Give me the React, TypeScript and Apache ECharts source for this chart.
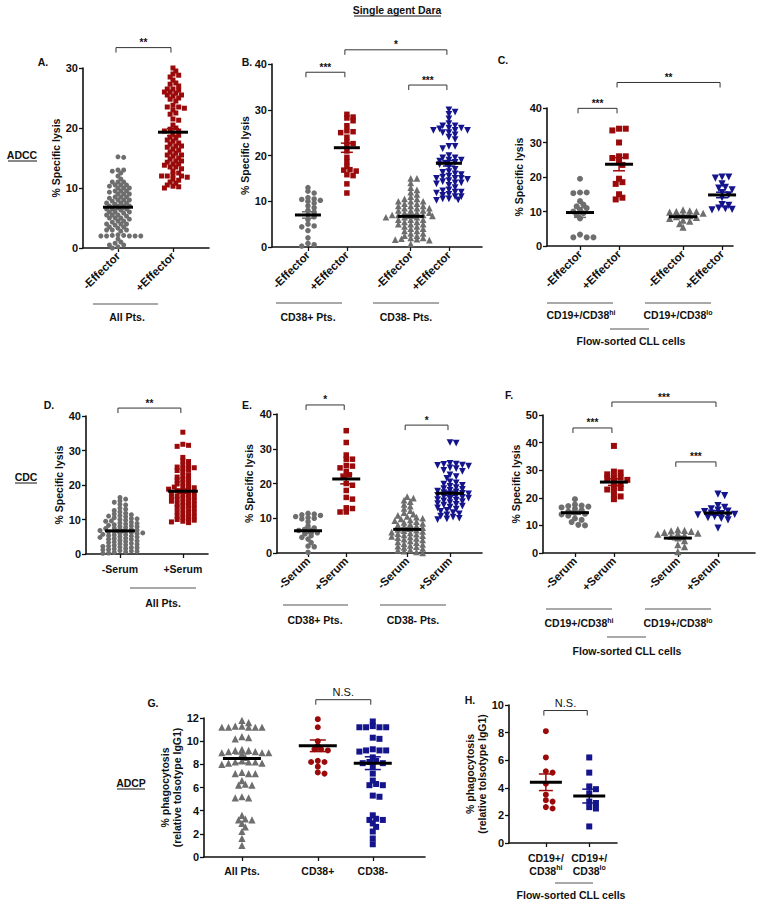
import React, { useEffect, useRef } from "react";
import * as echarts from "echarts";

const FONT = "'Liberation Sans', Arial, sans-serif";
const GRAY = "#6e6e6e";
const RED = "#9b0a0a";
const NAVY = "#14148c";
const INK = "#111111";

// ---------------- DATA ----------------
// A. ADCC, all patients
const aEffectorMinus = [15.2, 15.1, 13, 13, 12.5, 12.8, 12, 11.5, 11, 11, 11, 10.5, 10.5, 10.5, 10.3, 10, 10, 10, 9.5, 9.5, 9.5, 9.3, 9, 9, 9, 8.5, 8.5, 8.5, 8.3, 8, 8, 8, 7.8, 7.5, 7.5, 7.5, 7.3, 7, 7, 7, 6.8, 6.5, 6.5, 6.5, 6.3, 6, 6, 6, 5.8, 5.5, 5.5, 5.5, 5.3, 5, 5, 5, 4.8, 4.5, 4.5, 4.3, 4, 4, 4, 3.8, 3.5, 3.5, 3.3, 3, 3, 3, 2.8, 2.2, 2.1, 2, 2, 2, 2, 2, 2.1, 1.5, 1, 0.8, 0.5, 0.5, 0.2, 0];
const aEffectorPlus = [30, 29.5, 29, 28.5, 28.8, 28, 27.5, 27.3, 27, 26.5, 26.5, 26.3, 26, 26, 25.8, 25.5, 25.5, 25.3, 25, 24.8, 24.5, 23.8, 23.5, 23.5, 23.3, 23, 22.5, 22.3, 21.5, 21.3, 20.5, 20, 19.8, 19.5, 19.5, 19, 18.8, 18.5, 18.3, 18, 17.8, 17.5, 17.3, 17, 17, 16.8, 16.5, 16.3, 16, 15.8, 15.5, 15.5, 15.3, 15, 14.8, 14.5, 14.5, 14.3, 14, 14, 13.8, 13.5, 13.5, 13.2, 12.8, 12.5, 12.2, 12, 12, 12, 11.8, 11.5, 11.3, 11, 10.8, 10.5, 10.3, 10.2, 10];
const aMeans = [6.8, 19.3];
const aSems = [0.4, 0.6];

// B. ADCC, CD38+ / CD38- patients
const bPosEffectorMinus = [13, 12.2, 11.8, 10.8, 10.5, 10.4, 10.2, 10, 9.6, 9, 8.6, 8, 7.6, 7, 6.6, 6, 5, 4.6, 4.4, 3.6, 2, 0.8, 0.5, 0.2];
const bPosEffectorPlus = [29, 28.4, 28.2, 27.6, 26.5, 25.4, 25.2, 25, 24, 23, 22.6, 22, 21, 19.6, 18.6, 17.6, 16.9, 16.8, 16.6, 15.8, 15.6, 13.8, 11.8];
const bNegEffectorMinus = [15, 15, 14, 13, 12.5, 12, 11.5, 11, 10.5, 10.5, 10, 10, 10, 9.5, 9.5, 9, 9, 9, 8.5, 8.5, 8.5, 8, 8, 8, 7.5, 7.5, 7.5, 7, 7, 7, 7, 6.8, 6.5, 6.5, 6.5, 6, 6, 6, 5.5, 5.5, 5, 5, 5, 4.5, 4.5, 4, 4, 3.5, 3.5, 3, 3, 2.5, 2.5, 2, 2, 1.8, 1.7, 1.6, 1.5, 0.7];
const bNegEffectorPlus = [30, 29.5, 29, 28, 27, 26.5, 26.5, 26, 26, 25.8, 25.5, 25.5, 25.5, 25, 25, 24.5, 24, 23.5, 22, 22, 21.5, 20, 19.5, 19.5, 19, 19, 18.8, 18.5, 18.3, 18, 17.5, 17, 16.5, 16.3, 16, 15.8, 15.5, 15.3, 15, 15, 15, 14.8, 14.5, 14.3, 14, 14, 13.8, 13.5, 13, 12.5, 12.3, 12, 12, 11.8, 11.5, 11.3, 11, 11, 10.5, 10.5, 10.3, 10.2];
const bMeans = [7.0, 21.7, 6.7, 18.3];
const bSems = [0.7, 1.0, 0.4, 0.6];

// C. ADCC, flow-sorted CLL cells
const cHiEffectorMinus = [19.5, 15.5, 15.5, 15.3, 13, 12, 11.5, 11, 10.5, 10, 9.5, 9, 8, 3.3, 2.5, 2.5, 2.5];
const cHiEffectorPlus = [34, 34, 33.5, 30, 26, 26, 25.5, 24.5, 23.5, 19.5, 18.5, 18, 15, 14, 13.5];
const cLoEffectorMinus = [10.5, 10.2, 10, 10, 9.8, 9.5, 9, 8.8, 8.5, 8.3, 8, 7.5, 7.2, 6.5, 5.5];
const cLoEffectorPlus = [20, 20, 19.7, 18, 17, 16.8, 16.3, 15.5, 14.8, 14, 12, 11.8, 11, 10.8, 10.6, 10.5];
const cMeans = [9.7, 23.7, 8.5, 14.8];
const cSems = [1.4, 1.9, 0.4, 0.8];

// D. CDC, all patients
const dSerumMinus = [16.4, 15.9, 15.4, 15.0, 14.4, 14.2, 13.3, 13.0, 12.6, 12.2, 11.8, 11.6, 11.4, 11.1, 11.0, 10.8, 10.5, 10.3, 10.2, 10.0, 9.8, 9.6, 9.5, 9.2, 9.0, 8.9, 8.7, 8.5, 8.3, 8.2, 8.0, 7.9, 7.7, 7.5, 7.4, 7.2, 7.0, 6.9, 6.8, 6.6, 6.5, 6.4, 6.2, 6.1, 6.0, 5.9, 5.7, 5.6, 5.5, 5.3, 5.2, 5.0, 4.9, 4.8, 4.6, 4.5, 4.3, 4.2, 4.0, 3.8, 3.6, 3.5, 3.3, 3.1, 3.0, 2.8, 2.6, 2.5, 2.3, 2.2, 2.0, 1.9, 1.8, 1.6, 1.5, 1.3, 1.2, 1.0, 0.9, 0.8, 0.6, 0.5, 0.3, 0.2];
const dSerumPlus = [35.3, 31.8, 31.5, 31.2, 28.0, 27.0, 26.8, 25.8, 25.5, 25.2, 25.0, 24.8, 24.5, 24.2, 23.8, 23.0, 22.6, 22.3, 22.0, 21.6, 21.3, 21.0, 20.6, 20.3, 20.0, 19.6, 19.4, 19.2, 19.0, 18.8, 18.5, 18.3, 18.0, 17.8, 17.6, 17.3, 17.0, 16.8, 16.6, 16.4, 16.2, 16.0, 15.8, 15.5, 15.3, 15.0, 14.8, 14.5, 14.3, 14.0, 13.8, 13.5, 13.2, 12.8, 12.5, 12.2, 12.0, 11.6, 11.2, 11.0, 10.8, 10.5, 10.2, 10.0, 9.8, 9.5, 9.3, 9.1];
const dMeans = [6.7, 18.2];
const dSems = [0.4, 0.6];

// E. CDC, CD38+ / CD38- patients
const ePosSerumMinus = [11.4, 11.2, 11, 10.8, 10.5, 10.2, 10, 9.8, 9, 7.8, 7.2, 6.8, 6.5, 6.2, 5.8, 5.5, 5, 4.5, 4, 3, 2, 1.8, 0.2];
const ePosSerumPlus = [35.2, 31.8, 28.2, 27, 27, 25.2, 25, 24.5, 23.5, 22.5, 21.8, 20, 19.5, 18, 16, 15.5, 13, 12.8, 11.8, 11.8];
const eNegSerumMinus = [16.2, 15.8, 15.2, 14.8, 14.0, 13.5, 12.8, 12.2, 11.6, 11.2, 10.8, 10.5, 10.3, 10.0, 9.8, 9.5, 9.3, 9.0, 8.8, 8.5, 8.3, 8.0, 7.8, 7.6, 7.3, 7.0, 6.8, 6.6, 6.4, 6.2, 6.0, 5.8, 5.6, 5.4, 5.2, 5.0, 4.8, 4.6, 4.4, 4.2, 4.0, 3.8, 3.5, 3.2, 3.0, 2.7, 2.5, 2.2, 2.0, 1.8, 1.6, 1.3, 1.0, 0.8, 0.5, 0.3, 0.0];
const eNegSerumPlus = [31.8, 31.6, 25.8, 25.6, 25.5, 25.3, 25.2, 25.0, 24.5, 24.3, 23.8, 23.5, 22.5, 22.0, 21.5, 20.5, 20.2, 19.8, 19.5, 19.2, 18.8, 18.5, 18.3, 18.0, 17.8, 17.6, 17.4, 17.2, 17.0, 16.8, 16.6, 16.4, 16.2, 16.0, 15.8, 15.6, 15.4, 15.2, 15.0, 14.8, 14.5, 14.2, 14.0, 13.8, 13.5, 13.2, 13.0, 12.6, 12.3, 12.0, 11.6, 11.3, 11.0, 10.6, 10.3, 10.0, 9.8, 9.6];
const eMeans = [6.4, 21.3, 6.8, 17.2];
const eSems = [0.7, 1.4, 0.5, 0.6];

// F. CDC, flow-sorted CLL cells
const fHiSerumMinus = [19.5, 17.5, 17.2, 17, 16.8, 16.5, 16, 15.5, 15, 14.5, 14.2, 14, 13.5, 12.5, 12, 11.2, 10.2, 10];
const fHiSerumPlus = [38.8, 29.5, 29.2, 28.5, 27.5, 27.3, 27, 26.5, 26, 25, 24, 23.5, 23, 22.5, 21, 20.5, 19.5];
const fLoSerumMinus = [8.5, 8.2, 8, 7.8, 7.5, 7.2, 7, 6.8, 6.5, 6, 5.5, 4.5, 3, 2.3, 0.5];
const fLoSerumPlus = [21.3, 20.8, 17.2, 16.5, 16, 15.5, 15.2, 15, 14.5, 14.2, 14, 13.8, 13.5, 13.2, 12.8, 12.5, 12, 9];
const fMeans = [14.6, 25.7, 5.4, 14.5];
const fSems = [0.6, 1.2, 0.6, 0.8];

// G. ADCP, patients
const gAllPts = [11.8, 11.6, 11.3, 11.3, 11.2, 11.2, 11.2, 11.2, 11.2, 10.3, 10.2, 10.4, 9.3, 9.2, 9.2, 9.1, 9.1, 9.0, 9.0, 9.0, 8.9, 8.6, 8.3, 8.2, 8.2, 8.2, 8.1, 8.1, 8.0, 7.3, 7.2, 7.2, 7.2, 6.6, 6.3, 6.2, 6.2, 5.2, 5.1, 5.1, 3.6, 3.3, 3.2, 3.2, 2.9, 2.6, 2.2, 1.6, 1.0];
const gCD38Pos = [11.9, 11.2, 10, 9.6, 9.3, 9.3, 9.2, 8.3, 8.2, 8.2, 7.8, 7.3, 7.2];
const gCD38Neg = [11.7, 11.3, 11.2, 11.2, 11.2, 11.2, 10.3, 10.2, 9.3, 9.2, 9.2, 9.2, 9.1, 8.6, 8.3, 8.2, 8.1, 8.1, 7.8, 7.2, 6.6, 6.3, 6.2, 6.2, 5.3, 5.2, 3.6, 3.3, 3.2, 3.2, 2.9, 2.6, 2.2, 1.6, 1.1];
const gMeans = [8.5, 9.6, 8.1];
const gSems = [0.4, 0.5, 0.55];

// H. ADCP, flow-sorted CLL cells
const hCD38Hi = [8.1, 6.2, 5.2, 5.1, 4.3, 3.5, 3.1, 3.0, 2.6, 2.5];
const hCD38Lo = [6.2, 5.1, 4.1, 3.9, 3.6, 3.0, 2.9, 2.6, 2.5, 1.2];
const hMeans = [4.4, 3.4];
const hSems = [0.6, 0.5];

// tick / category labels
const effectorLabels = ["-Effector", "+Effector", "-Effector", "+Effector"];
const serumLabels = ["-Serum", "+Serum", "-Serum", "+Serum"];
const gLabels = ["All Pts.", "CD38+", "CD38-"];
const hLabels = ["CD19+/\nCD38{sup|hi}", "CD19+/\nCD38{sup|lo}"];

// ---------------- LAYOUT ----------------
type Group = { values: number[]; color: string; symbol: string; rotate?: number };
type Bracket = { x1: number; x2: number; y: number; label: string };
type Panel = {
  grid: [number, number, number, number];
  yMax: number; yInterval: number;
  xMin: number; xMax: number; xs: number[]; labels: string[]; rotate: number;
  groups: Group[]; means: number[]; sems: number[];
  size: number; meanHalf: number; capHalf: number;
  yName: string; nameGap: number; brackets: Bracket[]; labelMargin: number;
};

const circ = (values: number[], color: string): Group => ({ values, color, symbol: "circle" });
const sq = (values: number[], color: string): Group => ({ values, color, symbol: "rect" });
const tri = (values: number[], color: string): Group => ({ values, color, symbol: "triangle" });
const itri = (values: number[], color: string): Group => ({ values, color, symbol: "triangle", rotate: 180 });

const LYSIS = "% Specific lysis";
const PHAGO = "% phagocytosis\n(relative toIsotype IgG1)";

const panels: Panel[] = [
  { grid: [83, 68, 126, 180], yMax: 30, yInterval: 10, xMin: 0.364, xMax: 2.655, xs: [1, 2], labels: effectorLabels, rotate: 45,
    groups: [circ(aEffectorMinus, GRAY), sq(aEffectorPlus, RED)], means: aMeans, sems: aSems, size: 5, meanHalf: 15, capHalf: 6,
    yName: LYSIS, nameGap: 21, labelMargin: 6, brackets: [{ x1: 1, x2: 2, y: 33.4, label: "**" }] },
  { grid: [272, 64, 210, 183], yMax: 40, yInterval: 10, xMin: 0.077, xMax: 5.47, xs: [1, 2, 3.64, 4.62], labels: effectorLabels, rotate: 45,
    groups: [circ(bPosEffectorMinus, GRAY), sq(bPosEffectorPlus, RED), tri(bNegEffectorMinus, GRAY), itri(bNegEffectorPlus, NAVY)],
    means: bMeans, sems: bSems, size: 5.5, meanHalf: 13, capHalf: 6, yName: LYSIS, nameGap: 18, labelMargin: 6,
    brackets: [{ x1: 1, x2: 2, y: 38.2, label: "***" }, { x1: 2, x2: 4.62, y: 43.1, label: "*" }, { x1: 3.64, x2: 4.62, y: 35.4, label: "***" }] },
  { grid: [547, 108, 186, 138], yMax: 40, yInterval: 10, xMin: 0.154, xMax: 4.92, xs: [1, 2, 3.64, 4.64], labels: effectorLabels, rotate: 45,
    groups: [circ(cHiEffectorMinus, GRAY), sq(cHiEffectorPlus, RED), tri(cLoEffectorMinus, GRAY), itri(cLoEffectorPlus, NAVY)],
    means: cMeans, sems: cSems, size: 6, meanHalf: 14, capHalf: 6, yName: LYSIS, nameGap: 22, labelMargin: 6,
    brackets: [{ x1: 1, x2: 2, y: 39.9, label: "***" }, { x1: 2, x2: 4.64, y: 47.4, label: "**" }] },
  { grid: [86, 416, 122, 138], yMax: 40, yInterval: 10, xMin: 0.46, xMax: 2.4, xs: [1, 2], labels: serumLabels, rotate: 0,
    groups: [circ(dSerumMinus, GRAY), sq(dSerumPlus, RED)], means: dMeans, sems: dSems, size: 5, meanHalf: 15, capHalf: 6,
    yName: LYSIS, nameGap: 18, labelMargin: 8, brackets: [{ x1: 1, x2: 2, y: 42.3, label: "**" }] },
  { grid: [277, 414, 205, 139], yMax: 40, yInterval: 10, xMin: 0.195, xMax: 5.51, xs: [1, 1.99, 3.57, 4.68], labels: serumLabels, rotate: 45,
    groups: [circ(ePosSerumMinus, GRAY), sq(ePosSerumPlus, RED), tri(eNegSerumMinus, GRAY), itri(eNegSerumPlus, NAVY)],
    means: eMeans, sems: eSems, size: 5.5, meanHalf: 14, capHalf: 6, yName: LYSIS, nameGap: 22, labelMargin: 6,
    brackets: [{ x1: 1, x2: 1.99, y: 42.6, label: "*" }, { x1: 3.57, x2: 4.68, y: 36.8, label: "*" }] },
  { grid: [543, 415, 212, 138], yMax: 50, yInterval: 10, xMin: 0.18, xMax: 5.62, xs: [1, 2, 3.64, 4.67], labels: serumLabels, rotate: 45,
    groups: [circ(fHiSerumMinus, GRAY), sq(fHiSerumPlus, RED), tri(fLoSerumMinus, GRAY), itri(fLoSerumPlus, NAVY)],
    means: fMeans, sems: fSems, size: 6, meanHalf: 14, capHalf: 6, yName: LYSIS, nameGap: 21, labelMargin: 6,
    brackets: [{ x1: 1, x2: 2, y: 45.3, label: "***" }, { x1: 2, x2: 4.67, y: 54.7, label: "***" }, { x1: 3.64, x2: 4.67, y: 33, label: "***" }] },
  { grid: [204, 718, 221, 139], yMax: 12, yInterval: 2, xMin: 0.31, xMax: 4.33, xs: [1, 2.38, 3.38], labels: gLabels, rotate: 0,
    groups: [tri(gAllPts, GRAY), circ(gCD38Pos, RED), sq(gCD38Neg, NAVY)], means: gMeans, sems: gSems, size: 6, meanHalf: 19, capHalf: 8,
    yName: PHAGO, nameGap: 17, labelMargin: 7, brackets: [{ x1: 2.38, x2: 3.38, y: 13.58, label: "N.S." }] },
  { grid: [509, 705, 108, 138], yMax: 10, yInterval: 2, xMin: 0.15, xMax: 2.64, xs: [1, 2], labels: hLabels, rotate: 0,
    groups: [circ(hCD38Hi, RED), sq(hCD38Lo, NAVY)], means: hMeans, sems: hSems, size: 6, meanHalf: 16, capHalf: 7,
    yName: PHAGO, nameGap: 20, labelMargin: 8, brackets: [{ x1: 1, x2: 2, y: 9.6, label: "N.S." }] },
];

// Beeswarm layout: spreads points horizontally in compact rows (column-scatter style).
function swarm(values: number[], xCenter: number, pxX: number, pxY: number, dx0: number, dy0: number): number[][] {
  const order = values.map((v, i) => [v, i]).sort((a, b) => b[0] - a[0]);
  const placed: { dx: number; y: number }[] = [];
  const out: number[][] = new Array(values.length);
  for (const [v, i] of order) {
    const ypx = v * pxY;
    let chosen = 0;
    for (let k = 0; k < 400; k++) {
      const off = (k % 2 === 1 ? 1 : -1) * Math.ceil(k / 2) * dx0 * 0.5;
      const ok = placed.every((p) => {
        const ex = (p.dx - off) / dx0;
        const ey = (p.y - ypx) / dy0;
        return ex * ex + ey * ey >= 0.98;
      });
      if (ok) { chosen = off; break; }
    }
    placed.push({ dx: chosen, y: ypx });
    out[i] = [xCenter + chosen / pxX, v];
  }
  return out;
}

const textStyleBase = { fontFamily: FONT, color: INK };

function buildOption() {
  const grid: any[] = [];
  const xAxis: any[] = [];
  const yAxis: any[] = [];
  const series: any[] = [];

  panels.forEach((p, pi) => {
    const [left, top, width, height] = p.grid;
    grid.push({ left, top, width, height });
    const pxX = width / (p.xMax - p.xMin);
    const pxY = height / p.yMax;
    xAxis.push({
      type: "value", gridIndex: pi, min: p.xMin, max: p.xMax,
      splitLine: { show: false },
      axisLine: { show: true, onZero: false, lineStyle: { color: INK, width: 1.6 } },
      axisTick: { show: true, customValues: p.xs, length: 4, lineStyle: { color: INK, width: 1.3 } },
      axisLabel: {
        customValues: p.xs, rotate: p.rotate, margin: p.labelMargin,
        ...textStyleBase, fontSize: p.rotate ? 11.5 : 10.5, fontWeight: "bold", lineHeight: 13,
        formatter: (v: number) => {
          const i = p.xs.findIndex((x) => Math.abs(x - v) < 1e-6);
          return i >= 0 ? p.labels[i] : "";
        },
        rich: { sup: { fontSize: 7, fontWeight: "bold", fontFamily: FONT, color: INK, verticalAlign: "top", lineHeight: 13 } },
      },
    });
    yAxis.push({
      type: "value", gridIndex: pi, min: 0, max: p.yMax, interval: p.yInterval,
      name: p.yName, nameLocation: "middle", nameGap: p.nameGap, nameRotate: 90,
      nameTextStyle: { ...textStyleBase, fontSize: 10.5, fontWeight: "bold", lineHeight: 12 },
      splitLine: { show: false },
      axisLine: { show: true, lineStyle: { color: INK, width: 1.6 } },
      axisTick: { show: true, length: 4, lineStyle: { color: INK, width: 1.3 } },
      axisLabel: { ...textStyleBase, fontSize: 11, fontWeight: "bold", margin: 5 },
    });

    p.groups.forEach((g, gi) => {
      series.push({
        type: "scatter", xAxisIndex: pi, yAxisIndex: pi, silent: true, clip: false, z: 2,
        symbol: g.symbol, symbolRotate: g.rotate ?? 0,
        symbolSize: g.symbol === "triangle" ? p.size + 1.2 : p.size,
        itemStyle: { color: g.color, opacity: 1 },
        data: swarm(g.values, p.xs[gi], pxX, pxY, p.size + 0.7, p.size * 0.66),
      });
    });

    series.push({
      type: "custom", xAxisIndex: pi, yAxisIndex: pi, silent: true, clip: false, z: 5,
      encode: { x: 0, y: 1 },
      data: p.xs.map((x, i) => [x, p.means[i], p.sems[i]]),
      renderItem: (params: any, api: any) => {
        const x = api.value(0), m = api.value(1), s = api.value(2);
        const color = p.groups[params.dataIndex].color;
        const c = api.coord([x, m]);
        const t = api.coord([x, m + s]);
        const b = api.coord([x, m - s]);
        const ls = { stroke: color, lineWidth: 1.5 };
        return {
          type: "group",
          children: [
            { type: "line", shape: { x1: c[0], y1: t[1], x2: c[0], y2: b[1] }, style: ls },
            { type: "line", shape: { x1: c[0] - p.capHalf, y1: t[1], x2: c[0] + p.capHalf, y2: t[1] }, style: ls },
            { type: "line", shape: { x1: c[0] - p.capHalf, y1: b[1], x2: c[0] + p.capHalf, y2: b[1] }, style: ls },
            { type: "line", shape: { x1: c[0] - p.meanHalf, y1: c[1], x2: c[0] + p.meanHalf, y2: c[1] }, style: { stroke: "#000", lineWidth: 3 } },
          ],
        };
      },
    });

    series.push({
      type: "custom", xAxisIndex: pi, yAxisIndex: pi, silent: true, clip: false, z: 5,
      encode: { x: [0, 1], y: 2 },
      data: p.brackets.map((b) => [b.x1, b.x2, b.y]),
      renderItem: (params: any, api: any) => {
        const br = p.brackets[params.dataIndex];
        const l = api.coord([api.value(0), api.value(2)]);
        const r = api.coord([api.value(1), api.value(2)]);
        const x1 = l[0] - 2, x2 = r[0] - 2, y = l[1];
        const isNS = br.label === "N.S.";
        return {
          type: "group",
          children: [
            { type: "polyline", shape: { points: [[x1, y + 5], [x1, y], [x2, y], [x2, y + 5]] }, style: { stroke: "#333", lineWidth: 1, fill: "none" } },
            { type: "text", style: {
                text: br.label, x: (x1 + x2) / 2, y: y - (isNS ? 2 : 0), align: "center", verticalAlign: "bottom",
                textAlign: "center", textVerticalAlign: "bottom",
                fontFamily: FONT, fontSize: isNS ? 11 : 10, fontWeight: isNS ? "normal" : "bold", fill: INK } },
          ],
        };
      },
    });
  });

  const T = (text: string, x: number, y: number, size = 10.5, weight = "bold"): any => ({
    type: "text", x, y, silent: true,
    style: {
      text, fontFamily: FONT, fontSize: size, fontWeight: weight, fill: INK,
      align: "center", verticalAlign: "middle", textAlign: "center", textVerticalAlign: "middle",
      rich: { sup: { fontSize: 7, fontWeight: "bold", fontFamily: FONT, fill: INK, verticalAlign: "top", lineHeight: 12 } },
    },
  });
  const L = (x1: number, y1: number, x2: number, y2: number, color = "#555", w = 1.2): any => ({
    type: "line", silent: true, shape: { x1, y1, x2, y2 }, style: { stroke: color, lineWidth: w },
  });

  const graphic = [
    T("Single agent Dara", 397, 10, 10.5), L(354, 16, 441, 16, INK, 1),
    T("A.", 43, 62), T("B.", 247, 62), T("C.", 503, 60), T("D.", 49, 405),
    T("E.", 247, 405), T("F.", 509, 395), T("G.", 153, 703), T("H.", 470, 700),
    T("ADCC", 22, 155, 10.5), L(8, 161, 37, 161, INK, 1),
    T("CDC", 26, 477, 10.5), L(15, 483, 37, 483, INK, 1),
    T("ADCP", 131, 783, 10.5), L(117, 789, 145, 789, INK, 1),
    // panel A
    L(93, 304, 158, 304), T("All Pts.", 127, 317),
    // panel B
    L(276, 303, 342, 303), L(373, 303, 439, 303), T("CD38+ Pts.", 308, 317), T("CD38- Pts.", 406, 317),
    // panel C
    L(547, 303, 613, 303), L(645, 303, 711, 303),
    T("CD19+/CD38{sup|hi}", 581, 315), T("CD19+/CD38{sup|lo}", 678, 315),
    L(610, 329, 649, 329), T("Flow-sorted CLL cells", 631, 341),
    // panel D
    L(130, 588, 196, 588), T("All Pts.", 163, 603),
    // panel E
    L(283, 605, 348, 605), L(380, 605, 446, 605), T("CD38+ Pts.", 315, 620), T("CD38- Pts.", 413, 620),
    // panel F
    L(546, 609, 612, 609), L(645, 609, 711, 609),
    T("CD19+/CD38{sup|hi}", 579, 623), T("CD19+/CD38{sup|lo}", 678, 623),
    L(607, 637, 646, 637), T("Flow-sorted CLL cells", 627, 651),
    // panel H
    L(555, 883, 593, 883), T("Flow-sorted CLL cells", 571, 895),
  ];

  return { animation: false, backgroundColor: "#ffffff", grid, xAxis, yAxis, series, graphic };
}

export default function App() {
  const ref = useRef<HTMLDivElement>(null);
  useEffect(() => {
    if (!ref.current) return;
    const chart = echarts.init(ref.current, undefined, { renderer: "svg" });
    chart.setOption(buildOption() as any);
    return () => chart.dispose();
  }, []);
  return (
    <div
      ref={ref}
      style={{ position: "fixed", left: 0, top: 0, width: 758, height: 900, background: "#fff" }}
    />
  );
}
